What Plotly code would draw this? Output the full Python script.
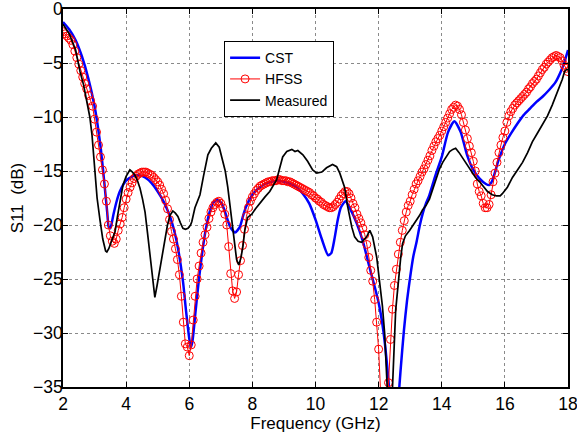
import plotly.graph_objects as go

# ---------------- data ----------------
# CST simulation (GHz, dB)
cst_freq = [2.0, 2.2, 2.4, 2.6, 2.8, 3.0, 3.1, 3.2, 3.3, 3.4, 3.45, 3.5, 3.6, 3.7, 3.8, 4.0,
            4.2, 4.4, 4.6, 4.8, 5.0, 5.2, 5.4, 5.6, 5.8, 5.9, 6.0, 6.05, 6.1, 6.2, 6.3, 6.4,
            6.5, 6.6, 6.7, 6.8, 6.9, 7.0, 7.1, 7.2, 7.3, 7.45, 7.6, 7.7, 7.8, 8.0, 8.2, 8.4,
            8.6, 8.8, 9.0, 9.2, 9.4, 9.6, 9.8, 10.0, 10.2, 10.4, 10.5, 10.6, 10.7, 10.8, 10.95,
            11.1, 11.3, 11.5, 11.7, 11.9, 12.0, 12.1, 12.2, 12.3, 12.4, 12.5, 12.6, 12.7, 12.8,
            12.9, 13.0, 13.1, 13.2, 13.3, 13.4, 13.5, 13.6, 13.8, 14.0, 14.2, 14.4, 14.6, 14.8,
            15.0, 15.2, 15.4, 15.5, 15.6, 15.8, 16.0, 16.2, 16.4, 16.6, 16.8, 17.0, 17.2, 17.4,
            17.6, 17.8, 17.9, 18.0]
cst_s11 = [-1.2, -1.9, -2.9, -4.4, -6.4, -9.0, -10.8, -13.0, -15.8, -18.8, -20.2, -20.3, -19.0,
           -17.8, -16.9, -15.9, -15.5, -15.4, -15.6, -16.1, -16.9, -17.9, -19.3, -21.5, -25.2,
           -28.0, -30.5, -31.3, -30.8, -28.0, -25.2, -22.8, -20.8, -19.3, -18.3, -17.8, -17.7,
           -17.9, -18.5, -19.4, -20.2, -20.7, -20.2, -19.2, -18.3, -17.2, -16.6, -16.2, -16.0,
           -15.9, -16.0, -16.2, -16.5, -17.1, -18.0, -19.5, -21.3, -22.8, -22.6, -21.3, -19.6,
           -18.4, -17.8, -18.5, -19.8, -21.5, -23.8, -26.0, -27.2, -28.8, -31.0, -34.0, -37.5,
           -39.0, -37.0, -33.3, -29.8, -27.0, -24.8, -22.9, -21.6, -20.1, -18.9, -18.0, -17.3,
           -15.4, -13.7, -11.4, -10.4, -11.4, -13.5, -14.9, -15.7, -16.2, -16.3, -15.9, -14.0,
           -12.5, -11.5, -10.6, -9.8, -9.2, -8.6, -8.1, -7.5, -6.8, -5.6, -4.8, -3.8]

# HFSS simulation: sweep 2-18 GHz, 257 points (step 0.0625 GHz)
hfss_freq = [2.0 + 0.0625 * i for i in range(257)]
hfss_s11 = [
    # 2.x
    -2.1, -2.3, -2.5, -2.7, -2.9, -3.3, -3.9, -4.5, -5.1, -5.7, -6.3, -6.9, -7.4, -8.0, -8.5, -9.0,
    # 3.x
    -10.2, -11.4, -12.6, -13.7, -14.9, -16.2, -17.8, -20.0, -21.0, -21.5, -21.7, -21.3, -20.5, -19.9, -19.3, -18.4,
    # 4.x
    -17.6, -17.0, -16.5, -16.1, -15.7, -15.5, -15.3, -15.2, -15.1, -15.1, -15.1, -15.2, -15.3, -15.4, -15.6, -15.8,
    # 5.x
    -16.0, -16.3, -16.7, -17.1, -17.7, -18.5, -19.5, -20.6, -21.3, -22.2, -23.2, -24.6, -26.6, -29.0, -31.0, -31.3,
    # 6.x
    -32.1, -31.1, -28.8, -26.6, -25.0, -23.8, -22.6, -21.6, -20.9, -20.2, -19.4, -18.8, -18.4, -18.1, -17.9, -17.8,
    # 7.x
    -18.0, -18.4, -19.0, -20.0, -22.0, -24.5, -26.1, -26.8, -26.2, -24.6, -23.3, -21.9, -20.4, -19.2, -18.4, -17.8,
    # 8.x
    -17.4, -17.1, -16.8, -16.6, -16.4, -16.3, -16.2, -16.1, -16.0, -16.0, -15.9, -15.9, -15.9, -15.8, -15.8, -15.9,
    # 9.x
    -15.9, -15.9, -16.0, -16.0, -16.1, -16.2, -16.3, -16.4, -16.5, -16.6, -16.7, -16.8, -16.9, -17.0, -17.2, -17.3,
    # 10.x
    -17.5, -17.6, -17.8, -17.9, -18.1, -18.2, -18.3, -18.4, -18.4, -18.3, -18.1, -17.9, -17.6, -17.3, -17.1, -16.9,
    # 11.x
    -16.9, -17.1, -17.5, -18.0, -18.4, -19.0, -19.4, -19.8, -20.3, -20.9, -21.8, -23.0, -24.2, -25.2, -26.9, -29.0,
    # 12.x
    -31.5, -35.5, -39.0, -41.0, -38.0, -34.6, -30.6, -27.8, -25.6, -24.1, -22.7, -21.6, -20.5, -19.6, -18.8, -18.2,
    # 13.x
    -17.8, -17.2, -16.7, -16.2, -15.9, -15.5, -15.1, -14.8, -14.4, -14.0, -13.6, -13.1, -12.7, -12.3, -12.0, -11.7,
    # 14.x
    -11.3, -10.9, -10.5, -10.1, -9.7, -9.3, -9.1, -8.9, -9.0, -9.3, -9.8, -10.5, -11.2, -12.0, -12.7, -13.3,
    # 15.x
    -14.1, -15.0, -16.2, -16.9, -17.3, -18.0, -18.4, -18.4, -18.1, -17.2, -16.0, -15.2, -14.2, -13.3, -12.6, -11.9,
    # 16.x
    -11.3, -10.5, -9.9, -9.5, -9.2, -8.9, -8.7, -8.5, -8.3, -8.1, -7.9, -7.7, -7.4, -7.2, -6.9, -6.7,
    # 17.x
    -6.5, -6.2, -5.9, -5.6, -5.4, -5.1, -4.9, -4.7, -4.5, -4.4, -4.3, -4.4, -4.5, -4.8, -5.2, -5.5,
    # 18.0
    -5.8,
]

# Measured
meas_freq = [2.0, 2.2, 2.4, 2.54, 2.65, 2.76, 2.85, 2.92, 3.0, 3.08, 3.17, 3.26, 3.35, 3.39, 3.45,
             3.55, 3.65, 3.72, 3.8, 3.9, 4.0, 4.12, 4.2, 4.28, 4.36, 4.44, 4.52, 4.6, 4.68, 4.75,
             4.83, 4.91, 4.98, 5.07, 5.15, 5.23, 5.31, 5.39, 5.48, 5.56, 5.64, 5.72, 5.8, 5.88,
             5.96, 6.04, 6.08, 6.18, 6.26, 6.34, 6.45, 6.59, 6.7, 6.84, 6.95, 7.06, 7.14, 7.22,
             7.3, 7.38, 7.5, 7.57, 7.64, 7.7, 7.76, 7.85, 7.98, 8.1, 8.23, 8.4, 8.55, 8.66, 8.77,
             8.86, 8.96, 9.09, 9.25, 9.35, 9.44, 9.6, 9.75, 9.91, 10.04, 10.2, 10.35, 10.54, 10.67,
             10.77, 10.92, 11.02, 11.15, 11.24, 11.35, 11.46, 11.62, 11.72, 11.81, 11.94, 12.03,
             12.12, 12.19, 12.25, 12.32, 12.4, 12.44, 12.54, 12.63, 12.7, 12.76, 12.85, 12.98,
             13.1, 13.2, 13.3, 13.39, 13.5, 13.61, 13.72, 13.84, 13.93, 14.03, 14.15, 14.25,
             14.35, 14.44, 14.55, 14.66, 14.8, 14.94, 15.07, 15.2, 15.33, 15.45, 15.6, 15.73,
             15.85, 15.92, 16.08, 16.24, 16.4, 16.56, 16.72, 16.87, 17.03, 17.19, 17.35, 17.5,
             17.62, 17.73, 17.82, 17.89, 17.95, 18.0]
meas_s11 = [-1.4, -2.3, -3.8, -5.8, -7.0, -8.5, -10.0, -11.7, -14.5, -17.5, -19.5, -21.3, -22.4,
            -22.5, -22.2, -21.4, -20.6, -19.3, -17.9, -16.3, -15.5, -14.9, -15.1, -15.4, -15.9,
            -16.6, -17.6, -18.8, -20.8, -22.5, -25.0, -26.7, -25.6, -24.0, -22.8, -21.2, -20.0,
            -19.1, -18.7, -18.9, -19.2, -19.8, -20.3, -20.4, -20.3, -20.0, -19.7, -18.4, -17.8,
            -17.2, -15.5, -13.5, -12.9, -12.4, -12.8, -14.0, -15.0, -16.5, -18.5, -20.5, -23.2,
            -23.7, -23.0, -22.0, -20.5, -19.3, -19.0, -18.5, -18.0, -17.4, -16.9, -16.4, -15.8,
            -14.8, -13.7, -13.2, -13.0, -13.2, -13.1, -13.5, -14.1, -14.9, -15.2, -15.1, -14.7,
            -14.4, -14.6, -15.2, -16.5, -18.3, -20.2, -21.1, -21.5, -21.6, -21.1, -20.5, -21.1,
            -23.0, -25.1, -27.5, -30.0, -35.0, -38.0, -37.0, -35.0, -27.9, -24.8, -23.0, -21.7,
            -21.0, -20.5, -20.0, -19.5, -19.1, -18.6, -18.2, -17.6, -16.6, -15.6, -14.8, -14.2,
            -13.6, -13.2, -13.0, -12.9, -13.3, -13.8, -14.4, -15.1, -15.6, -16.0, -16.5, -16.9,
            -17.2, -17.3, -17.3, -17.1, -16.5, -15.6, -14.9, -14.2, -13.3, -12.3, -11.5, -10.7,
            -9.9, -8.9, -8.0, -7.3, -6.5, -5.8, -5.6, -5.6]

x_ticks = [2, 4, 6, 8, 10, 12, 14, 16, 18]
y_ticks = [0, -5, -10, -15, -20, -25, -30, -35]

FONT = "Liberation Sans, Arial, Helvetica, sans-serif"

fig = go.Figure()
fig.add_trace(go.Scatter(x=cst_freq, y=cst_s11, name="CST", mode="lines",
                         line=dict(color="#0000ff", width=2.5, shape="spline", smoothing=0.6)))
fig.add_trace(go.Scatter(x=hfss_freq, y=hfss_s11, name="HFSS", mode="lines+markers",
                         line=dict(color="#ff0000", width=1),
                         marker=dict(symbol="circle-open", size=8, color="#ff0000",
                                     line=dict(width=1, color="#ff0000"))))
fig.add_trace(go.Scatter(x=meas_freq, y=meas_s11, name="Measured", mode="lines",
                         line=dict(color="#000000", width=1.7)))

axis_common = dict(
    showline=True, linecolor="black", linewidth=1.5, mirror="ticks",
    ticks="inside", ticklen=5, tickcolor="black", tickwidth=1,
    showgrid=True, gridcolor="#8a8a8a", gridwidth=1, griddash="dot",
    zeroline=False, automargin=False, ticklabeloverflow="allow",
    tickfont=dict(family=FONT, size=17.5, color="black"),
)

fig.update_xaxes(range=[2, 18], tickvals=x_ticks, ticktext=[str(v) for v in x_ticks],
                 title=dict(text="Frequency (GHz)", font=dict(family=FONT, size=17, color="black"),
                            standoff=2),
                 **axis_common)
fig.update_yaxes(range=[-35, 0], tickvals=y_ticks, ticktext=[str(v).replace("-", "\u2212") for v in y_ticks],
                 ticklabelstandoff=-5,
                 title=dict(text="S11\u00a0\u00a0(dB)", font=dict(family=FONT, size=17, color="black"),
                            standoff=5),
                 **axis_common)

fig.update_layout(
    width=577, height=438,
    margin=dict(l=63, r=9, t=9, b=51),
    paper_bgcolor="white", plot_bgcolor="white",
    showlegend=True,
    legend=dict(x=0.319, y=0.915, xanchor="left", yanchor="top",
                bgcolor="white", bordercolor="black", borderwidth=1,
                font=dict(family=FONT, size=14, color="black"),
                tracegroupgap=0, itemwidth=30),
)

fig.write_html("out.html", config={"displayModeBar": False},
               post_script="document.body.style.margin='0px';")
